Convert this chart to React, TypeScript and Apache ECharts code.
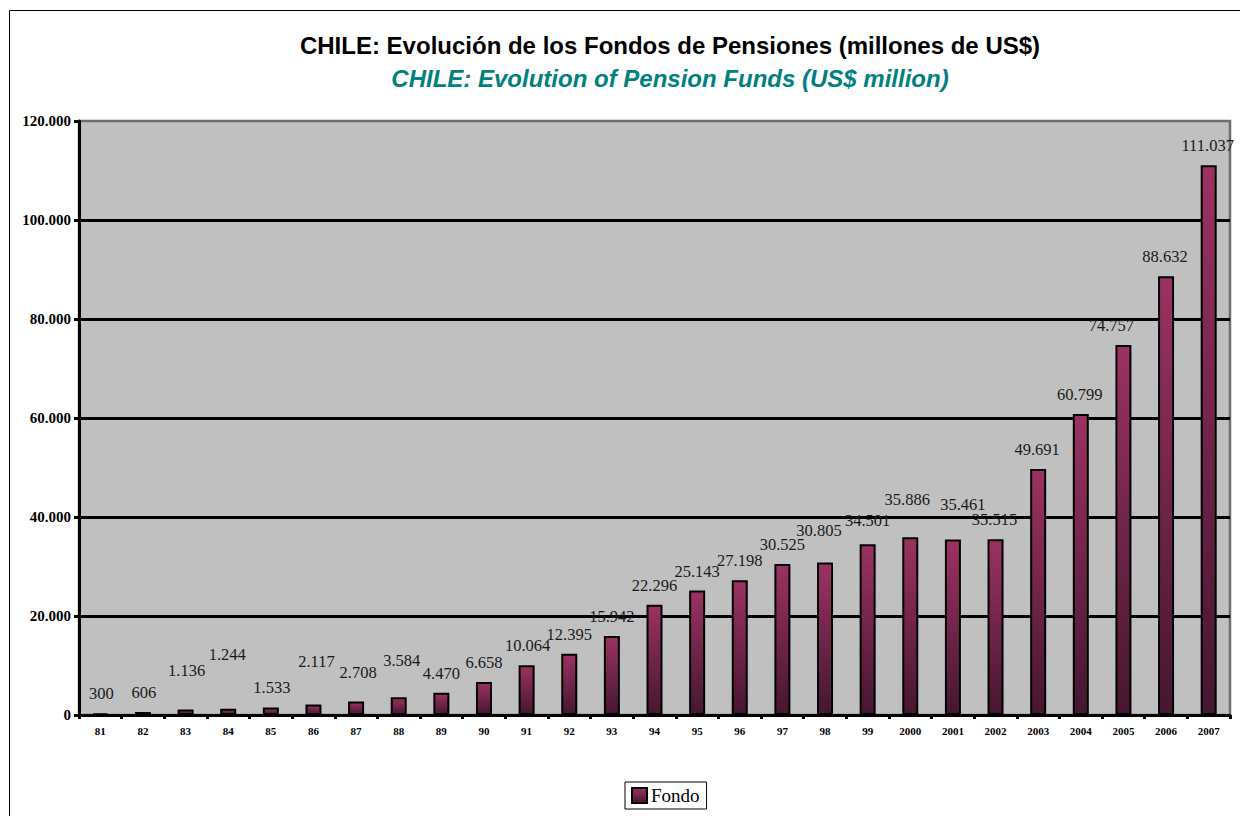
import React, { useEffect, useRef } from "react";
import * as echarts from "echarts";

const categories = ["81","82","83","84","85","86","87","88","89","90","91","92","93","94","95","96","97","98","99","2000","2001","2002","2003","2004","2005","2006","2007"];
const fondo = [300,606,1136,1244,1533,2117,2708,3584,4470,6658,10064,12395,15942,22296,25143,27198,30525,30805,34501,35886,35461,35515,49691,60799,74757,88632,111037];
// label nudges (manually moved labels in the original chart), in px
const labelLift = [0,0,19,35,0,24,10,17,0,0,0,0,0,0,0,0,0,13,4,18,15,0,0,0,0,0,0];
const labelShift = [1,1,1,-1,1,3,2,3,0,0,1,0,0,0,0,0,0,-6,0,-3,10,-1,-1,-1,-12,-1,-1];
const titleText = "CHILE: Evolución de los Fondos de Pensiones (millones de US$)";
const subtitleText = "CHILE: Evolution of Pension Funds (US$ million)";
const seriesName = "Fondo";

const fmt = (v: number) => String(Math.round(v)).replace(/\B(?=(\d{3})+(?!\d))/g, ".");
const serif = "'Liberation Serif', 'Times New Roman', serif";
const sans = "'Liberation Sans', Arial, sans-serif";

export default function App() {
  const ref = useRef<HTMLDivElement>(null);
  useEffect(() => {
    if (!ref.current) return;
    const chart = echarts.init(ref.current, null, { renderer: "svg" });
    const grad = new echarts.graphic.LinearGradient(0, 0, 0, 1, [
      { offset: 0, color: "#9b3262" },
      { offset: 1, color: "#451730" },
    ]);
    const barData = fondo.map((v, i) => ({
      value: v,
      label: { offset: [labelShift[i], -labelLift[i]] },
    }));
    chart.setOption({
      animation: false,
      backgroundColor: "#ffffff",
      title: [
        {
          text: titleText,
          left: 665,
          top: 28,
          textAlign: "center",
          textStyle: { fontFamily: sans, fontSize: 24, fontWeight: "bold", color: "#000" },
        },
        {
          text: subtitleText,
          left: 665,
          top: 61,
          textAlign: "center",
          textStyle: { fontFamily: sans, fontSize: 24, fontWeight: "bold", fontStyle: "italic", color: "#008080" },
        },
      ],
      graphic: [
        {
          type: "rect",
          shape: { x: 9.5, y: 10.5, width: 1260, height: 850 },
          style: { fill: "none", stroke: "#000", lineWidth: 1 },
          silent: true,
          z: -1,
        },
      ],
      legend: {
        data: [seriesName],
        left: 625,
        top: 782,
        icon: "rect",
        itemWidth: 15,
        itemHeight: 15,
        padding: [4, 7, 4, 6],
        borderColor: "#000",
        borderWidth: 1,
        textStyle: { fontFamily: serif, fontSize: 19, color: "#000", padding: [0, 0, 0, -1] },
      },
      grid: {
        left: 79,
        top: 121,
        right: 10,
        bottom: 101,
        show: true,
        backgroundColor: "#c0c0c0",
        borderColor: "#6e6e6e",
        borderWidth: 2.5,
      },
      xAxis: {
        type: "category",
        data: categories,
        axisLine: { lineStyle: { color: "#000", width: 3 } },
        axisTick: { show: true, interval: 0, length: 4, lineStyle: { color: "#000", width: 3 } },
        axisLabel: { interval: 0, fontFamily: serif, fontSize: 11, fontWeight: "bold", color: "#000", margin: 10 },
      },
      yAxis: {
        type: "value",
        min: 0,
        max: 120000,
        interval: 20000,
        axisLine: { show: true, lineStyle: { color: "#000", width: 3 } },
        axisTick: { show: true, length: 5, lineStyle: { color: "#000", width: 3 } },
        axisLabel: { formatter: (v: number) => fmt(v), fontFamily: serif, fontSize: 15, fontWeight: "bold", color: "#000", margin: 8 },
        splitLine: { show: true, showMaxLine: false, lineStyle: { color: "#000", width: 3 } },
      },
      series: [
        {
          name: seriesName,
          type: "bar",
          data: barData,
          barWidth: 16,
          itemStyle: { color: grad, borderColor: "#000", borderWidth: 2 },
          label: {
            show: true,
            position: "top",
            distance: 11,
            formatter: (p: any) => fmt(p.value),
            fontFamily: serif,
            fontSize: 16.5,
            color: "#1a1a1a",
          },
        },
      ],
    });
    return () => chart.dispose();
  }, []);
  return <div ref={ref} style={{ position: "fixed", left: 0, top: 0, width: 1240, height: 816 }} />;
}
